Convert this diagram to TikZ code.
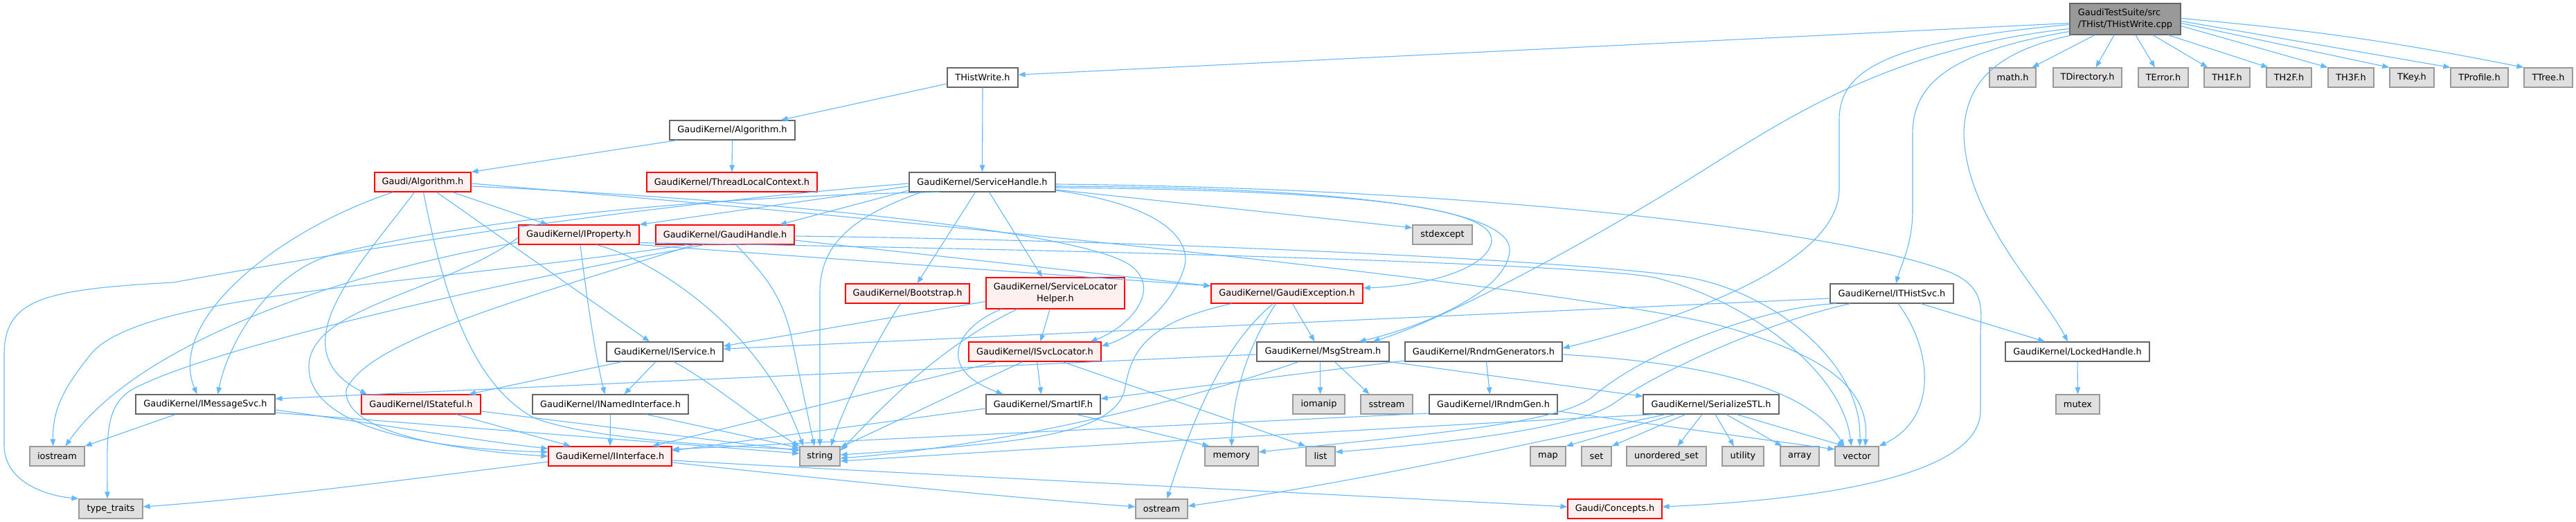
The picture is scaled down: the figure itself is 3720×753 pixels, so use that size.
\documentclass[tikz,border=0pt]{standalone}
\usepackage{fontspec}
\setmainfont{DejaVu Sans}
\usetikzlibrary{arrows.meta}
\definecolor{edgec}{HTML}{63B8FF}
\definecolor{bordc}{HTML}{666666}
\definecolor{redb}{HTML}{FF0000}
\definecolor{redf}{HTML}{FFF0F0}
\definecolor{grayf}{HTML}{E0E0E0}
\definecolor{grayb}{HTML}{999999}
\definecolor{mainf}{HTML}{999999}
\tikzset{
 nb/.style={rectangle, inner sep=0pt, minimum height=28pt, line width=1.2pt, font=\fontsize{12.9}{16.5}\selectfont, text=black},
 wbox/.style={nb, draw=bordc, fill=white},
 rbox/.style={nb, draw=redb, fill=redf},
 gbox/.style={nb, draw=grayb, fill=grayf},
 mbox/.style={nb, draw=bordc, fill=mainf},
 edg/.style={draw=edgec, line width=1.1pt, -{Triangle[length=10pt,width=7.5pt]}},
}
\begin{document}
\begin{tikzpicture}[x=1pt,y=1pt]
\fill[white] (0,0) rectangle (3720,753);
\useasboundingbox (0,0) rectangle (3720,753);
% row 0
\node[mbox, minimum width=160pt, minimum height=45pt, align=left] (M) at (3069,725.5) {GaudiTestSuite/src\\/THist/THistWrite.cpp};
% row 1
\node[wbox, minimum width=102pt] (THW) at (1419,641) {THistWrite.h};
\node[gbox, minimum width=67pt] (mathh) at (2906.5,641) {math.h};
\node[gbox, minimum width=99pt] (TDir) at (3014.5,641) {TDirectory.h};
\node[gbox, minimum width=72pt] (TErr) at (3124,641) {TError.h};
\node[gbox, minimum width=66pt] (TH1) at (3216,641) {TH1F.h};
\node[gbox, minimum width=65pt] (TH2) at (3305.5,641) {TH2F.h};
\node[gbox, minimum width=66pt] (TH3) at (3395,641) {TH3F.h};
\node[gbox, minimum width=64pt] (TKey) at (3483,641) {TKey.h};
\node[gbox, minimum width=83pt] (TProf) at (3580.5,641) {TProfile.h};
\node[gbox, minimum width=70pt] (TTree) at (3680,641) {TTree.h};
% row 2
\node[wbox, minimum width=181pt] (GKAlg) at (1057.5,565) {GaudiKernel/Algorithm.h};
% row 3
\node[rbox, minimum width=139pt] (GAlg) at (610.5,490) {Gaudi/Algorithm.h};
\node[rbox, minimum width=246pt] (TLC) at (1057,490) {GaudiKernel/ThreadLocalContext.h};
\node[wbox, minimum width=211pt] (SH) at (1418.5,490) {GaudiKernel/ServiceHandle.h};
% row 4
\node[rbox, minimum width=174pt] (IProp) at (836,414) {GaudiKernel/IProperty.h};
\node[rbox, minimum width=200pt] (GH) at (1047,414) {GaudiKernel/GaudiHandle.h};
\node[gbox, minimum width=86pt] (stdexc) at (2083,414) {stdexcept};
% row 5
\node[rbox, minimum width=179pt] (Boot) at (1310.5,329) {GaudiKernel/Bootstrap.h};
\node[rbox, minimum width=200pt, minimum height=45pt, align=center] (SLH) at (1524,329.5) {GaudiKernel/ServiceLocator\\Helper.h};
\node[rbox, minimum width=219pt] (GE) at (1858.5,329) {GaudiKernel/GaudiException.h};
\node[wbox, minimum width=178pt] (ITH) at (2732,329) {GaudiKernel/ITHistSvc.h};
% row 6
\node[wbox, minimum width=168pt] (ISvc) at (960,245) {GaudiKernel/IService.h};
\node[rbox, minimum width=191pt] (ISL) at (1494.5,245) {GaudiKernel/ISvcLocator.h};
\node[wbox, minimum width=191pt] (Msg) at (1910.5,245) {GaudiKernel/MsgStream.h};
\node[wbox, minimum width=227pt] (Rndm) at (2142.5,245) {GaudiKernel/RndmGenerators.h};
\node[wbox, minimum width=208pt] (LH) at (3000,245) {GaudiKernel/LockedHandle.h};
% row 7
\node[wbox, minimum width=201pt] (IMS) at (296.5,169) {GaudiKernel/IMessageSvc.h};
\node[rbox, minimum width=172pt] (IStat) at (608,169) {GaudiKernel/IStateful.h};
\node[wbox, minimum width=225pt] (INI) at (881.5,169) {GaudiKernel/INamedInterface.h};
\node[wbox, minimum width=165pt] (SIF) at (1506.5,169) {GaudiKernel/SmartIF.h};
\node[gbox, minimum width=75pt] (iomanip) at (1904.5,169) {iomanip};
\node[gbox, minimum width=75pt] (sstream) at (2002.5,169) {sstream};
\node[wbox, minimum width=185pt] (IRG) at (2156.5,169) {GaudiKernel/IRndmGen.h};
\node[wbox, minimum width=196pt] (SSTL) at (2471,169) {GaudiKernel/SerializeSTL.h};
\node[gbox, minimum width=63pt] (mutex) at (3000.5,169) {mutex};
% row 8
\node[gbox, minimum width=79pt] (iostream) at (82.5,94) {iostream};
\node[rbox, minimum width=178pt] (IInt) at (881,94) {GaudiKernel/IInterface.h};
\node[gbox, minimum width=58pt] (str) at (1184,94) {string};
\node[gbox, minimum width=77pt] (memory) at (1778.5,94) {memory};
\node[gbox, minimum width=42pt] (list) at (1907,94) {list};
\node[gbox, minimum width=51pt] (map) at (2235.5,94) {map};
\node[gbox, minimum width=43pt] (set) at (2305.5,94) {set};
\node[gbox, minimum width=115pt] (uset) at (2406.5,94) {unordered\_set};
\node[gbox, minimum width=60pt] (utility) at (2517,94) {utility};
\node[gbox, minimum width=56pt] (array) at (2599,94) {array};
\node[gbox, minimum width=63pt] (vector) at (2681.5,94) {vector};
% row 9
\node[gbox, minimum width=92pt] (ttraits) at (160,18) {type\_traits};
\node[gbox, minimum width=75pt] (ostream) at (1677.5,18) {ostream};
\node[rbox, minimum width=136pt] (Concepts) at (2332,18) {Gaudi/Concepts.h};

% ---- edges from main
\draw[edg] ([yshift=-6pt]M.west) -- ([yshift=4pt]THW.east);
\draw[edg] ([xshift=-44pt]M.south) -- ([xshift=28pt]mathh.north);
\draw[edg] ([xshift=-16pt]M.south) -- ([xshift=12pt]TDir.north);
\draw[edg] ([xshift=15pt]M.south) -- ([xshift=-12pt]TErr.north);
\draw[edg] ([xshift=40pt]M.south) -- ([xshift=-28pt]TH1.north);
\draw[edg] ([xshift=62pt]M.south) -- ([xshift=-30pt]TH2.north);
\draw[edg] ([yshift=-10pt]M.east) -- (TH3.north west);
\draw[edg] ([yshift=-6pt]M.east) -- (TKey.north west);
\draw[edg] ([yshift=-3pt]M.east) -- (TProf.north west);
\draw[edg] ([yshift=1pt]M.east) to[bend left=3] (TTree.north west);
\draw[edg] ([yshift=-8pt]M.west) .. controls (2720,693) and (2656,650) .. (2656,580) -- (2656,480) .. controls (2656,370) and (2420,290) .. ([yshift=5pt]Rndm.east);
\draw[edg] ([yshift=-14pt]M.west) .. controls (2700,680) and (2550,560) .. (2400,470) .. controls (2250,380) and (2080,290) .. ([xshift=72pt]Msg.north);
\draw[edg] ([yshift=-18pt]M.west) .. controls (2830,680) and (2762,640) .. (2762,560) -- (2762,450) .. controls (2762,400) and (2745,370) .. ([xshift=6pt]ITH.north);
\draw[edg] ([xshift=4pt]M.south west) .. controls (2890,680) and (2838,640) .. (2836,560) .. controls (2838,440) and (2950,330) .. ([xshift=-14pt]LH.north);
% ---- THistWrite.h, GaudiKernel/Algorithm.h
\draw[edg] ([yshift=-9pt]THW.west) -- ([xshift=70pt]GKAlg.north);
\draw[edg] (THW.south) -- (SH.north);
\draw[edg] (GKAlg.south) -- (TLC.north);
\draw[edg] ([xshift=-80pt]GKAlg.south) -- (GAlg.north east);
% ---- Gaudi/Algorithm.h
\draw[edg] ([xshift=-43pt]GAlg.south) .. controls (400,420) and (240,290) .. ([xshift=-12pt]IMS.north);
\draw[edg] ([xshift=-12pt]GAlg.south) .. controls (520,370) and (400,250) .. ([xshift=-78pt]IStat.north);
\draw[edg] ([xshift=1pt]GAlg.south) .. controls (640,330) and (680,200) .. (770,150) .. controls (850,118) and (1050,108) .. ([yshift=10pt]str.west);
\draw[edg] ([xshift=20pt]GAlg.south) -- ([xshift=-22pt]ISvc.north);
\draw[edg] ([xshift=43pt]GAlg.south) -- ([xshift=-45pt]IProp.north);
\draw[edg] ([yshift=-6pt]GAlg.east) .. controls (1100,465) and (1560,420) .. (1632,370) .. controls (1680,335) and (1630,280) .. ([xshift=80pt]ISL.north);
\draw[edg] ([yshift=-2pt]GAlg.east) .. controls (1500,420) and (2300,330) .. (2483,283) .. controls (2640,240) and (2700,190) .. ([xshift=12pt]vector.north);
% ---- ServiceHandle.h
\draw[edg] ([xshift=-10pt]SH.south) -- ([xshift=14pt]Boot.north);
\draw[edg] ([xshift=10pt]SH.south) -- ([xshift=-19pt]SLH.north);
\draw[edg] ([yshift=-12pt]SH.east) .. controls (1690,455) and (1725,400) .. (1708,360) .. controls (1690,310) and (1640,268) .. ([yshift=8pt]ISL.east);
\draw[edg] ([yshift=-12pt]SH.west) -- ([xshift=79pt]GH.north);
\draw[edg] ([yshift=-6pt]SH.west) -- (IProp.north east);
\draw[edg] ([xshift=-62pt]SH.south) .. controls (1000,470) and (650,430) .. (480,385) .. controls (390,360) and (330,260) .. ([xshift=18pt]IMS.north);
\draw[edg] ([yshift=-2pt]SH.west) .. controls (900,455) and (500,390) .. (250,345) .. controls (60,335) and (6,320) .. (6,240) -- (6,110) .. controls (6,60) and (60,38) .. (ttraits.north west);
\draw[edg] ([xshift=-88pt]SH.south) .. controls (1230,440) and (1184,400) .. (1184,330) -- (str.north);
\draw[edg] ([yshift=-11pt]SH.east) -- ([yshift=10pt]stdexc.west);
\draw[edg] ([yshift=-8pt]SH.east) .. controls (1950,478) and (2158,455) .. (2154,405) .. controls (2150,365) and (2060,340) .. ([yshift=8pt]GE.east);
\draw[edg] ([yshift=-6pt]SH.east) .. controls (1960,482) and (2185,450) .. (2180,390) .. controls (2175,330) and (2050,280) .. ([xshift=52pt]Msg.north);
\draw[edg] ([yshift=-3pt]SH.east) .. controls (2200,480) and (2700,410) .. (2820,358) .. controls (2870,335) and (2860,300) .. (2860,270) -- (2860,160) .. controls (2860,60) and (2600,30) .. ([yshift=3pt]Concepts.east);
% ---- IProperty.h
\draw[edg] ([xshift=2pt]IProp.south) .. controls (850,300) and (862,230) .. ([xshift=-8pt]INI.north);
\draw[edg] ([xshift=25pt]IProp.south) .. controls (940,380) and (1100,280) .. ([xshift=-24pt]str.north);
\draw[edg] ([yshift=-11pt]IProp.west) .. controls (500,360) and (200,260) .. ([xshift=12pt]iostream.north);
\draw[edg] ([yshift=-4pt]IProp.west) .. controls (640,330) and (446,310) .. (446,223) .. controls (446,140) and (600,105) .. ([yshift=6pt]IInt.west);
\draw[edg] (IProp.south east) -- ([yshift=11pt]GE.west);
\draw[edg] ([yshift=3pt]IProp.south east) .. controls (1700,390) and (2300,370) .. (2390,352) .. controls (2520,320) and (2660,220) .. ([xshift=-8pt]vector.north);
% ---- GaudiHandle.h
\draw[edg] ([yshift=-8pt]GH.east) -- ([yshift=11pt]GE.west);
\draw[edg] ([yshift=-2pt]GH.east) .. controls (1700,405) and (2300,375) .. (2440,352) .. controls (2560,330) and (2690,230) .. ([xshift=4pt]vector.north);
\draw[edg] ([xshift=16pt]GH.south) .. controls (1100,360) and (1128,330) .. (1142,270) -- ([xshift=-8pt]str.north);
\draw[edg] ([xshift=-55pt]GH.south) .. controls (600,340) and (200,330) .. (130,240) .. controls (90,190) and (76,160) .. ([xshift=-6pt]iostream.north);
\draw[edg] ([xshift=-45pt]GH.south) .. controls (750,320) and (530,260) .. (500,190) .. controls (495,135) and (620,105) .. (IInt.west);
\draw[edg] ([xshift=-30pt]GH.south) .. controls (700,340) and (300,250) .. (190,190) .. controls (150,165) and (155,120) .. ([xshift=-5pt]ttraits.north);
% ---- IService.h
\draw[edg] ([xshift=-62pt]ISvc.south) -- ([xshift=69pt]IStat.north);
\draw[edg] ([xshift=-13pt]ISvc.south) -- ([xshift=20pt]INI.north);
\draw[edg] ([xshift=13pt]ISvc.south) .. controls (1030,200) and (1100,140) .. (str.north west);
% ---- INamedInterface.h, IStateful.h, IMessageSvc.h
\draw[edg] (INI.south) -- (IInt.north);
\draw[edg] ([xshift=52pt]INI.south) -- ([yshift=12pt]str.west);
\draw[edg] ([xshift=51pt]IStat.south) -- ([xshift=-57pt]IInt.north);
\draw[edg] ([yshift=-10pt]IStat.east) -- ([yshift=8pt]str.west);
\draw[edg] ([xshift=-43pt]IMS.south) -- (iostream.north east);
\draw[edg] ([yshift=-8pt]IMS.east) .. controls (550,140) and (700,115) .. ([yshift=11pt]IInt.west);
\draw[edg] ([yshift=-12pt]IMS.east) -- ([yshift=4pt]str.west);
% ---- IInterface.h
\draw[edg] ([yshift=-8pt]IInt.west) .. controls (600,62) and (400,35) .. ([yshift=3pt]ttraits.east);
\draw[edg] ([yshift=-9pt]IInt.east) .. controls (1200,60) and (1450,35) .. ([yshift=3pt]ostream.west);
\draw[edg] ([yshift=-6pt]IInt.east) .. controls (1250,72) and (1900,40) .. ([yshift=3pt]Concepts.west);
% ---- Bootstrap.h, ServiceLocatorHelper.h
\draw[edg] ([xshift=-10pt]Boot.south) .. controls (1265,260) and (1220,170) .. ([xshift=16pt]str.north);
\draw[edg] ([xshift=-8pt]SLH.south) -- ([xshift=8pt]ISL.north);
\draw[edg] ([xshift=-78pt]SLH.south) .. controls (1380,280) and (1350,220) .. ([xshift=-58pt]SIF.north);
\draw[edg] ([yshift=-12pt]SLH.west) -- ([yshift=8pt]ISvc.east);
\draw[edg] ([xshift=-55pt]SLH.south) .. controls (1350,250) and (1260,150) .. ([yshift=8pt]str.east);
% ---- ISvcLocator.h, SmartIF.h
\draw[edg] ([xshift=3pt]ISL.south) -- ([xshift=-3pt]SIF.north);
\draw[edg] ([xshift=-55pt]ISL.south) -- ([xshift=61pt]IInt.north);
\draw[edg] ([xshift=-18pt]ISL.south) -- ([yshift=-2pt]str.north east);
\draw[edg] ([xshift=40pt]ISL.south) -- (list.north west);
\draw[edg] ([yshift=-6pt]SIF.west) -- ([yshift=8pt]IInt.east);
\draw[edg] ([xshift=48pt]SIF.south) -- ([xshift=-32pt]memory.north);
% ---- GaudiException.h
\draw[edg] ([xshift=8pt]GE.south) -- ([xshift=-12pt]Msg.north);
\draw[edg] ([xshift=-80pt]GE.south) .. controls (1660,288) and (1635,250) .. (1625,195) .. controls (1615,120) and (1450,112) .. ([yshift=2pt]str.east);
\draw[edg] ([xshift=-20pt]GE.south) .. controls (1785,270) and (1735,190) .. ([xshift=8pt]ostream.north);
\draw[edg] ([xshift=-16pt]GE.south) .. controls (1800,250) and (1780,180) .. (memory.north);
% ---- MsgStream.h
\draw[edg] ([xshift=-4pt]Msg.south) -- ([xshift=2pt]iomanip.north);
\draw[edg] ([xshift=17pt]Msg.south) -- ([xshift=-25pt]sstream.north);
\draw[edg] (Msg.south east) -- ([yshift=-3pt]SSTL.north west);
\draw[edg] ([yshift=-4pt]Msg.west) -- ([yshift=8pt]IMS.east);
\draw[edg] ([xshift=-35pt]Msg.south) .. controls (1700,170) and (1450,110) .. ([yshift=-3pt]str.east);
% ---- RndmGenerators.h, IRndmGen.h
\draw[edg] ([xshift=4pt]Rndm.south) -- ([xshift=-5pt]IRG.north);
\draw[edg] ([yshift=-13pt]Rndm.west) -- ([yshift=8pt]SIF.east);
\draw[edg] ([yshift=-4pt]Rndm.east) .. controls (2400,232) and (2600,210) .. ([xshift=-18pt]vector.north);
\draw[edg] ([yshift=-13pt]IRG.west) -- ([yshift=10pt]IInt.east);
\draw[edg] ([yshift=-10pt]IRG.east) -- ([yshift=10pt]vector.west);
% ---- SerializeSTL.h
\draw[edg] ([xshift=-52pt]SSTL.south) -- (map.north east);
\draw[edg] ([xshift=-37pt]SSTL.south) -- (set.north east);
\draw[edg] ([xshift=-13pt]SSTL.south) -- ([xshift=16pt]uset.north);
\draw[edg] ([xshift=6pt]SSTL.south) -- ([xshift=-13pt]utility.north);
\draw[edg] ([xshift=22pt]SSTL.south) -- ([xshift=3pt]array.north west);
\draw[edg] ([xshift=37pt]SSTL.south) -- ([xshift=-18pt]vector.north);
\draw[edg] ([xshift=-66pt]SSTL.south) .. controls (2200,110) and (1950,55) .. ([yshift=4pt]ostream.east);
\draw[edg] ([xshift=-81pt]SSTL.south) .. controls (2000,135) and (1500,105) .. ([yshift=-7pt]str.east);
% ---- ITHistSvc.h, LockedHandle.h
\draw[edg] ([yshift=-7pt]ITH.west) -- ([yshift=4pt]ISvc.east);
\draw[edg] ([xshift=42pt]ITH.south) -- ([xshift=-47pt]LH.north);
\draw[edg] ([xshift=9pt]ITH.south) .. controls (2790,250) and (2800,150) .. (vector.north east);
\draw[edg] ([xshift=-60pt]ITH.south) .. controls (2560,290) and (2400,220) .. (2330,170) .. controls (2270,130) and (2050,110) .. ([yshift=6pt]list.east);
\draw[edg] ([xshift=-80pt]ITH.south) .. controls (2560,312) and (2380,250) .. (2300,180) .. controls (2250,140) and (2050,125) .. ([yshift=6pt]memory.east);
\draw[edg] (LH.south) -- (mutex.north);
\end{tikzpicture}
\end{document}
